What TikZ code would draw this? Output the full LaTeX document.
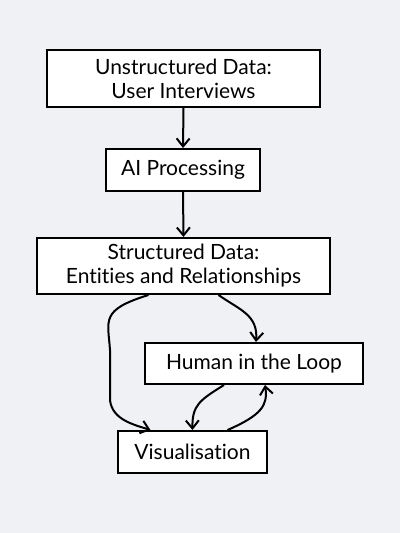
\documentclass[tikz,border=0pt]{standalone}
\usepackage{fontspec}
\setmainfont[Ligatures=NoCommon]{Lato}
\usetikzlibrary{arrows.meta}
\definecolor{bg}{HTML}{F0F1F5}
\tikzset{
  box/.style={draw=black, fill=white, line width=2pt, align=center, inner sep=0pt, font=\fontsize{21}{24}\selectfont},
  conn/.style={draw=black, line width=2pt, -{Straight Barb[length=8pt,width=13pt,line width=2pt]}}
}
\begin{document}
\begin{tikzpicture}[x=1pt,y=-1pt]
\fill[bg] (0,0) rectangle (400,533);
\useasboundingbox (0,0) rectangle (400,533);
\node[box, minimum width=273pt, minimum height=57pt] (u) at (183.5,78.5) {Unstructured Data:\\User Interviews};
\node[box, minimum width=154pt, minimum height=42pt] (ai) at (183,170) {AI Processing};
\node[box, minimum width=293pt, minimum height=56pt] (s) at (183.5,266) {Structured Data:\\Entities and Relationships};
\node[box, minimum width=218pt, minimum height=41pt] (h) at (254,363.5) {Human in the Loop};
\node[box, minimum width=149pt, minimum height=42pt] (v) at (192.5,452) {Visualisation};
\draw[conn] (u.south) -- (ai.north);
\draw[conn] (ai.south) -- (s.north);
\draw[conn] ([xshift=-35pt]s.south) .. controls (100,310) and (108,320) .. (110,350) -- (110,400) .. controls (112,420) and (135,425) .. ([xshift=-42pt]v.north);
\draw[conn] ([xshift=35pt]s.south) .. controls (240,310) and (258,315) .. ([xshift=2pt]h.north);
\draw[conn] ([xshift=-30pt]h.south) .. controls (200,400) and (192,405) .. ([xshift=0pt]v.north);
\draw[conn] ([xshift=35pt]v.north) .. controls (262,415) and (268,405) .. ([xshift=11pt]h.south);
\end{tikzpicture}
\end{document}
